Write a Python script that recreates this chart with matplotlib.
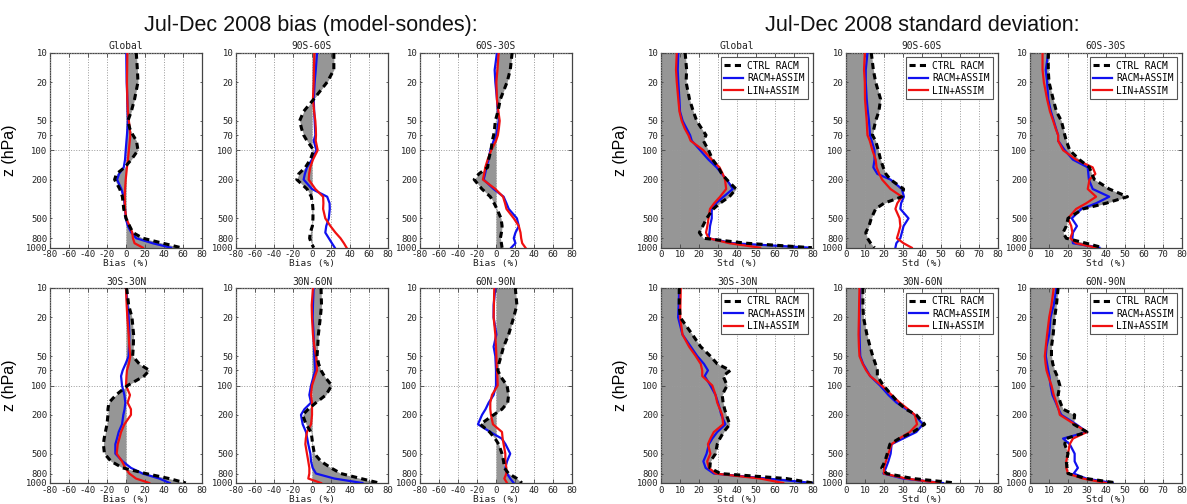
import matplotlib
matplotlib.use("Agg")
import matplotlib.pyplot as plt
from matplotlib.ticker import FixedLocator, FixedFormatter

# ---------------- data ----------------
P = [10, 15, 20, 30, 40, 50, 60, 70, 80, 100, 125, 150, 175, 200, 250, 300, 350, 400, 500, 600, 700, 800, 900, 1000]

REGIONS = ["Global", "90S-60S", "60S-30S", "30S-30N", "30N-60N", "60N-90N"]
SERIES_LABELS = ["CTRL RACM", "RACM+ASSIM", "LIN+ASSIM"]

# bias (%) model - sondes
BIAS_GLOBAL_CTRL = [10.8, 12, 12.6, 9, 5.6, 2, 4, 7.3, 11, 12.6, 5.6, -1.4, -10, -12, -6.6, -3.8, -3, -2.4, 0, 3.8, 7.3, 17.8, 38.8, 58]
BIAS_GLOBAL_RACM = [0.3, 0.5, 0.7, 1.4, 1.7, 2, 1.5, 1, 0.5, -0.3, -1, -2.4, -7.3, -9.4, -4.9, -2.4, -1.5, -1, -0.3, 2, 5.6, 10.8, 28, 47.5]
BIAS_GLOBAL_LIN = [1.4, 1.2, 1, 1.4, 2, 3, 4, 4.5, 4, 3, 2, 1, 0.3, -0.3, -1, -1.4, -1.2, -1, 0.3, 3.8, 6.6, 7.3, 9, 17.8]

BIAS_90S60S_CTRL = [23, 23, 16, 1.8, -8.8, -13, -11, -8.8, -5.3, 1.8, -1.8, -7, -14, -16, -5.3, -0.7, 0.5, 1, 1, 0.4, -1.8, -2.5, -0.7, 1.8]
BIAS_90S60S_RACM = [5.3, 4, 2.8, 1.8, 2.3, 2.8, 3.2, 3.5, 1.8, 4.6, 0, -5.3, -7.5, -8.8, 0, 16, 18.5, 18.7, 17.7, 15, 14, 17.7, 21, 24]
BIAS_90S60S_LIN = [2.5, 2, 1.8, 1, 2.2, 3.5, 4, 4.2, 3.9, 6, 1, -1.8, -3, -3.5, 3.5, 11.7, 12, 11.7, 14, 19.4, 24.7, 30, 33.6, 36.4]

BIAS_60S30S_CTRL = [17, 15, 11.7, 4.6, 2, -0.7, -1.5, -2.5, -3.9, -5.3, -7.8, -8.8, -18, -23, -14.8, -6, -2, 1, 5.3, 6.4, 5.7, 4.6, 5.7, 6.4]
BIAS_60S30S_RACM = [1, -1.4, -0.7, 1, 2, 2.8, 1.5, 0.4, -2.5, -6, -7.8, -10, -11.5, -13, -2.5, 8, 11, 13.4, 22, 24, 20.5, 18.7, 20.5, 16]
BIAS_60S30S_LIN = [2.8, 1.5, 0.4, 1, 2.5, 3.9, 3, 2, 0, -5, -8.8, -11.3, -12.5, -13.8, -0.7, 7.4, 9.5, 11, 18.7, 24, 25.8, 26.5, 27.6, 31]

BIAS_30S30N_CTRL = [0.7, 2.8, 6.3, 8, 7.7, 7, 14, 24.5, 19, 1.7, -10.5, -18, -19, -19, -20, -21.7, -23, -23.8, -22.7, -15.7, -3.5, 21, 45.4, 63]
BIAS_30S30N_RACM = [0, 1.5, 2.8, 3.5, 3.2, 2.8, -0.5, -3.5, -5.2, -4.2, -1.7, -0.7, -1.5, -2.8, -4.2, -7.7, -9.5, -11.2, -11.2, -3.5, 5.2, 17.5, 35, 46]
BIAS_30S30N_LIN = [0, 0.7, 1.4, 2.8, 3.5, 4.5, 3, 1, 0.5, 0, 4.2, 1.7, 5.2, 5.2, -1.7, -5.2, -7, -8.7, -9.8, -4.2, -0.7, 3.5, 10.5, 24.5]

BIAS_30N60N_CTRL = [9.5, 10, 8.8, 6.7, 6, 5.3, 7, 9.5, 13, 20.7, 14.7, 4.2, -3.9, -9.8, -6.3, -1, 0, 0.7, 2.5, 9.5, 20, 30.5, 51.5, 70.7]
BIAS_30N60N_RACM = [1.7, 1, 0.7, 1.7, 2.1, 2.5, 3, 3.5, 1.7, -1, -2.8, -1, -8, -11.6, -9.8, -6.3, -5, -3.9, -1.7, -1, 0.7, 4.2, 23.5, 53]
BIAS_30N60N_LIN = [1, -0.3, 0, 1, 2.5, 4.2, 5, 5.3, 3.2, 0, -1, 0, 0, 0, -1, -5.3, -6.5, -7, -5.3, -3.9, -2.8, -2.8, -3.9, 9.5]

BIAS_60N90N_CTRL = [20.3, 22, 18.6, 13.3, 8, 5.3, 3, 2, 4.5, 11.6, 13.3, 12.3, 6.3, -2.5, -16.5, -6.7, -1, 2.8, 6.3, 8, 8.8, 13.3, 22, 27.3]
BIAS_60N90N_RACM = [-0.7, -2.5, -2.5, 0.4, -2.5, -0.7, -0.3, 0, 0, 0, -2.5, -7.7, -11, -14.7, -19, -6, 6, 10, 15, 11.6, 9.8, 11.6, 15, 18.6]
BIAS_60N90N_LIN = [-1.8, -2.2, -2.5, -0.7, 0, 0.4, 0.7, 1, 1.4, 1.8, -4.2, -6, -6, -5.3, -3.2, 6.3, 7, 8, 9.8, 9.8, 10.9, 10.9, 8.8, 11.6]

# standard deviation (%)
STD_GLOBAL_CTRL = [12.7, 13.5, 13.2, 15, 17, 18.8, 21.4, 23.7, 22.3, 25, 27.2, 30.2, 32, 34.6, 39.5, 36, 31, 27.6, 24, 22, 20.2, 22.3, 45, 79.4]
STD_GLOBAL_RACM = [9.1, 8.8, 9.1, 9.7, 10, 11.4, 13.5, 15.3, 16.2, 20.6, 25, 29.3, 32, 34.6, 37.8, 32.9, 29, 26.7, 26.7, 25.8, 25.5, 25, 38, 78.6]
STD_GLOBAL_LIN = [8.3, 7.9, 8.3, 9.1, 9.7, 10.9, 12.5, 14.4, 15.6, 22.3, 26.7, 30.8, 32.5, 33.7, 34.3, 31.1, 28, 25.8, 25, 24.4, 23.7, 25, 36, 52.2]

STD_90S60S_CTRL = [13.3, 14.4, 15.6, 18.2, 17.3, 15.6, 14.7, 13.9, 15.6, 17, 18.2, 19.6, 21, 23.4, 30.3, 29.5, 20, 15.6, 13.3, 12.1, 10.4, 11.3, 13, 15]
STD_90S60S_RACM = [11.3, 10.4, 10.4, 10.9, 11.5, 12.1, 12.4, 12.6, 13.5, 15, 15, 14.4, 16.5, 23.4, 29.4, 30.5, 29, 28.6, 32.9, 30.3, 29.4, 28.6, 26.5, 26]
STD_90S60S_LIN = [9.9, 9.5, 9.9, 10, 10.5, 10.9, 11.1, 11.3, 12.5, 13.9, 15.6, 16.1, 17.5, 19, 23.4, 29.4, 27, 26, 28.2, 28.6, 27.7, 26.8, 30.3, 34.6]

STD_60S30S_CTRL = [9.6, 9.6, 10, 12.2, 13.9, 16.5, 17.5, 18.3, 19.1, 20.9, 26, 31.3, 32.5, 33.9, 41.7, 51.3, 40, 28, 20, 19.1, 17.4, 19.1, 29.6, 38.3]
STD_60S30S_RACM = [9.6, 8.3, 9, 9.6, 11, 12.5, 13.7, 14.8, 14.8, 18.3, 22.6, 30.4, 30.7, 31, 33, 41.7, 34.8, 27, 22, 24.7, 22.6, 22.3, 22.6, 36.5]
STD_60S30S_LIN = [6.6, 6.6, 7.3, 9, 10.5, 12.2, 13.5, 14.8, 14.8, 17.4, 24.3, 33, 34.4, 31.3, 30.4, 34.8, 29.6, 24.3, 20, 21.7, 22.3, 21.2, 24.3, 34.8]

STD_30S30N_CTRL = [9.6, 9.6, 10.1, 16.5, 20.9, 26, 29.6, 36.5, 32.7, 34.8, 32.2, 32.7, 33.5, 34.4, 36.2, 33, 31, 29.6, 28.7, 26, 25.7, 31.3, 66, 80]
STD_30S30N_RACM = [9.6, 9.3, 9, 11.3, 15.7, 19.1, 22.6, 24.7, 23, 26, 28.7, 30, 31, 31.7, 33.9, 29.6, 27, 25.2, 24, 22.3, 23.5, 27.8, 55.7, 80]
STD_30S30N_LIN = [10.4, 10.2, 10.1, 11.3, 14.8, 18.3, 20.9, 21.7, 21.7, 27, 28.7, 29.6, 31, 32.2, 32.7, 27.8, 26, 24.7, 26, 24.3, 25.2, 28.7, 52.2, 64.3]

STD_30N60N_CTRL = [8.9, 8.9, 9.2, 11, 12.7, 14.1, 15.5, 16.5, 16.5, 19.7, 24, 27.5, 31.5, 37, 41.4, 35.3, 28, 23.1, 21.7, 20.5, 18.8, 21.4, 35.3, 57.9]
STD_30N60N_RACM = [7.5, 7.3, 7.1, 7.1, 7.3, 7.5, 9, 11, 12.7, 17.9, 22.3, 26.6, 31.8, 36.2, 40.5, 37, 30, 24, 23.5, 22.3, 21, 19.7, 30.1, 51]
STD_30N60N_LIN = [7.1, 6.9, 6.8, 6.6, 6.8, 7.1, 8.8, 10.6, 12.7, 18.8, 24, 28.3, 32.7, 36.2, 37.4, 33.6, 28, 24, 22.3, 21, 20, 20, 31.8, 49.2]

STD_60N90N_CTRL = [14.8, 13.9, 13, 12.2, 11.3, 11.3, 12, 13, 14.3, 15.7, 14.8, 16, 17.4, 23.5, 23, 30, 19, 18.3, 20, 19.1, 19.5, 20, 29.6, 46]
STD_60N90N_RACM = [13.9, 12.5, 10.8, 10.1, 8.7, 8.3, 9, 9.6, 10.2, 10.8, 11.8, 13.6, 15, 16.5, 24.3, 30, 17.4, 20.9, 23.5, 23.5, 25.2, 23, 29.6, 43.5]
STD_60N90N_LIN = [12.5, 11.3, 10.1, 9, 8.3, 7.8, 8.2, 8.7, 9.6, 11.3, 12.5, 13.9, 15, 15.7, 23.5, 30, 22.6, 20.9, 20, 19.1, 19.1, 20, 27.8, 40]

BIAS = [
    (BIAS_GLOBAL_CTRL, BIAS_GLOBAL_RACM, BIAS_GLOBAL_LIN),
    (BIAS_90S60S_CTRL, BIAS_90S60S_RACM, BIAS_90S60S_LIN),
    (BIAS_60S30S_CTRL, BIAS_60S30S_RACM, BIAS_60S30S_LIN),
    (BIAS_30S30N_CTRL, BIAS_30S30N_RACM, BIAS_30S30N_LIN),
    (BIAS_30N60N_CTRL, BIAS_30N60N_RACM, BIAS_30N60N_LIN),
    (BIAS_60N90N_CTRL, BIAS_60N90N_RACM, BIAS_60N90N_LIN),
]
STD = [
    (STD_GLOBAL_CTRL, STD_GLOBAL_RACM, STD_GLOBAL_LIN),
    (STD_90S60S_CTRL, STD_90S60S_RACM, STD_90S60S_LIN),
    (STD_60S30S_CTRL, STD_60S30S_RACM, STD_60S30S_LIN),
    (STD_30S30N_CTRL, STD_30S30N_RACM, STD_30S30N_LIN),
    (STD_30N60N_CTRL, STD_30N60N_RACM, STD_30N60N_LIN),
    (STD_60N90N_CTRL, STD_60N90N_RACM, STD_60N90N_LIN),
]

Y_MAJOR = [10, 100, 1000]
Y_MINOR = [20, 50, 70, 200, 500, 800]
BIAS_TICKS = [-80, -60, -40, -20, 0, 20, 40, 60, 80]
STD_TICKS = [0, 10, 20, 30, 40, 50, 60, 70, 80]

# ---------------- figure ----------------
W, H = 1187, 504
fig = plt.figure(figsize=(W / 100, H / 100), dpi=100)
MONO = "DejaVu Sans Mono"
SANS = "Liberation Sans"
plt.rcParams["font.family"] = MONO

FILL = "#969696"
SPINE = "#444444"

def px_axes(left, top, w, h):
    return fig.add_axes([left / W, 1 - (top + h) / H, w / W, h / H])

def style_axes(ax, xticks, xlim, xlabel, title):
    ax.set_yscale("log")
    ax.set_ylim(1000, 10)
    ax.set_xlim(*xlim)
    ax.yaxis.set_major_locator(FixedLocator(Y_MAJOR))
    ax.yaxis.set_major_formatter(FixedFormatter([str(v) for v in Y_MAJOR]))
    ax.yaxis.set_minor_locator(FixedLocator(Y_MINOR))
    ax.yaxis.set_minor_formatter(FixedFormatter([str(v) for v in Y_MINOR]))
    ax.set_xticks(xticks)
    ax.set_xticklabels([str(v) for v in xticks])
    ax.tick_params(axis="both", which="both", labelsize=6.4, direction="in",
                   top=True, right=True, length=3, width=0.6, color=SPINE,
                   labelcolor="#222222", pad=2)
    ax.tick_params(axis="y", which="minor", length=1.5)
    ax.grid(True, which="major", axis="both", linestyle=":", color="#9a9a9a", linewidth=0.7)
    ax.set_axisbelow(False)
    for s in ax.spines.values():
        s.set_color(SPINE)
        s.set_linewidth(0.9)
    ax.set_xlabel(xlabel, fontsize=6.8, labelpad=0, color="#222222")
    ax.set_title(title, fontsize=6.9, pad=2.5, color="#222222")

def draw(ax, ctrl, racm, lin, base):
    ax.fill_betweenx(P, base, ctrl, color=FILL, linewidth=0, zorder=1)
    l1, = ax.plot(ctrl, P, color="black", linestyle=(0, (2.0, 1.4)), linewidth=2.2,
                  zorder=4, label=SERIES_LABELS[0])
    l2, = ax.plot(racm, P, color="#1010f0", linewidth=1.6, zorder=3, label=SERIES_LABELS[1])
    l3, = ax.plot(lin, P, color="#f01010", linewidth=1.6, zorder=3, label=SERIES_LABELS[2])
    return [l1, l2, l3]

AX_W, AX_H = 152, 195
ROW_TOPS = [52.7, 288]
BIAS_LEFTS = [50, 236, 420]
STD_LEFTS = [661, 846, 1030]

for i, region in enumerate(REGIONS):
    r, c = divmod(i, 3)
    # bias panel
    ax = px_axes(BIAS_LEFTS[c], ROW_TOPS[r], AX_W, AX_H)
    ctrl, racm, lin = BIAS[i]
    draw(ax, ctrl, racm, lin, 0)
    style_axes(ax, BIAS_TICKS, (-80, 80), "Bias (%)", region)
    if c == 0:
        ax.set_ylabel("z (hPa)", fontsize=11.5, family=SANS, labelpad=6)
    # std panel
    ax2 = px_axes(STD_LEFTS[c], ROW_TOPS[r], AX_W, AX_H)
    ctrl, racm, lin = STD[i]
    handles = draw(ax2, ctrl, racm, lin, 0)
    style_axes(ax2, STD_TICKS, (0, 80), "Std (%)", region)
    if c == 0:
        ax2.set_ylabel("z (hPa)", fontsize=11.5, family=SANS, labelpad=6)
    leg = ax2.legend(handles=handles, loc="upper right", fontsize=6.9, fancybox=False,
                     framealpha=1, edgecolor="#555555", handlelength=1.9,
                     handletextpad=0.5, borderpad=0.35, labelspacing=0.25,
                     borderaxespad=0.5)
    leg.get_frame().set_linewidth(0.8)

fig.text(311 / W, 1 - 31 / H, "Jul-Dec 2008 bias (model-sondes):", family=SANS,
         fontsize=15.5, ha="center", va="baseline", color="#111111")
fig.text(922 / W, 1 - 31 / H, "Jul-Dec 2008 standard deviation:", family=SANS,
         fontsize=15.5, ha="center", va="baseline", color="#111111")

fig.savefig("out.png", dpi=100)
